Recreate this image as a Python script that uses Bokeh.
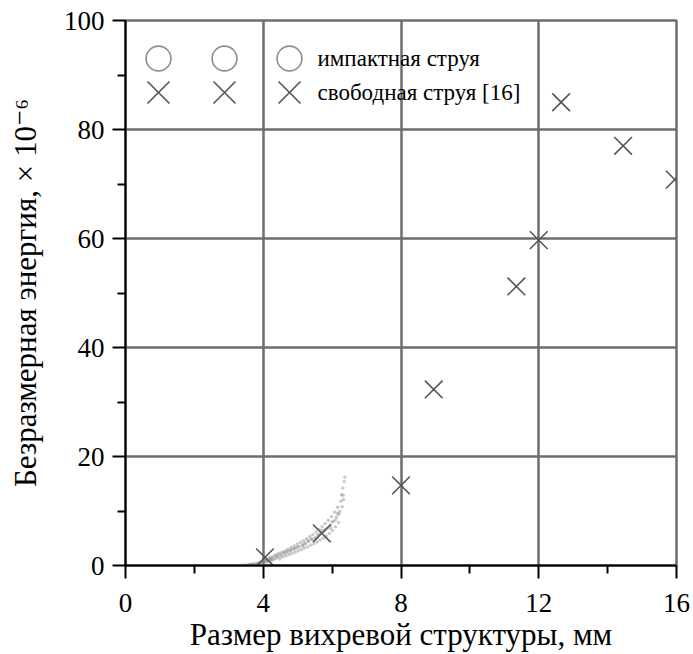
from bokeh.plotting import figure
from bokeh.models import Range1d, FixedTicker, Legend, LegendItem, ColumnDataSource, Label
from bokeh.embed import file_html
from bokeh.resources import INLINE

# ---- data ----
x_ticks = [0, 4, 8, 12, 16]
x_minor = [2, 6, 10, 14]
y_ticks = [0, 20, 40, 60, 80, 100]
y_minor = [10, 30, 50, 70, 90]

# free jet [16] (crosses)
free_x = [4.05, 5.7, 8.0, 8.95, 11.35, 12.0, 12.65, 14.45, 15.95]
free_y = [1.5, 5.9, 14.7, 32.3, 51.2, 59.7, 85.0, 77.0, 70.8]

# impinging jet (cloud of small grey points)
cloud_x = [3.35, 3.45, 3.52, 3.58, 3.63, 3.70, 3.74, 3.80, 3.84, 3.88, 3.92, 3.96, 4.00, 4.03, 4.06,
           4.09, 4.12, 4.15, 4.18, 4.21, 4.24, 4.27, 4.30, 4.33, 4.36, 4.39, 4.42, 4.45, 4.48, 4.51,
           4.54, 4.57, 4.60, 4.63, 4.66, 4.69, 4.72, 4.75, 4.78, 4.81, 4.84, 4.87, 4.90, 4.93, 4.96,
           4.99, 5.02, 5.05, 5.08, 5.11, 5.14, 5.17, 5.20, 5.23, 5.26, 5.29, 5.32, 5.35, 5.38, 5.41,
           5.44, 5.47, 5.50, 5.53, 5.56, 5.59, 5.62, 5.65, 5.68, 5.71, 5.74, 5.77, 5.80, 5.83, 5.86,
           5.89, 5.92, 5.95, 5.98, 6.01, 6.04, 6.07, 6.10, 6.13, 6.16, 6.19, 6.22, 6.25, 6.27, 6.29,
           6.31, 6.33, 6.35, 6.37, 4.20, 4.40, 4.60, 4.80, 5.00, 5.20, 5.40, 5.60, 5.80, 6.00, 6.20,
           4.10, 4.50, 4.90, 5.30, 5.70, 6.10, 3.65, 3.90, 4.25, 4.70, 5.15, 5.55, 5.95, 6.15, 6.32]
cloud_y = [0.05, 0.10, 0.05, 0.20, 0.12, 0.30, 0.18, 0.40, 0.25, 0.55, 0.35, 0.70, 0.45, 0.90, 0.60,
           1.15, 0.75, 1.30, 0.95, 1.45, 0.85, 1.60, 1.15, 1.85, 1.30, 2.00, 1.50, 2.25, 1.20, 1.75,
           2.45, 1.55, 2.10, 2.70, 1.80, 2.40, 3.00, 2.00, 2.65, 3.30, 2.25, 2.95, 3.60, 2.45, 3.20,
           3.95, 2.70, 3.50, 4.25, 2.95, 3.80, 4.55, 3.20, 4.10, 4.90, 3.45, 4.40, 5.30, 3.75, 4.75,
           5.70, 4.00, 5.10, 6.15, 4.30, 5.45, 6.60, 4.65, 5.90, 7.10, 5.00, 6.35, 7.70, 5.40, 6.85,
           8.30, 5.85, 7.40, 9.00, 6.40, 8.10, 9.80, 7.10, 8.90, 10.70, 7.90, 9.90, 11.80, 13.00, 10.80,
           14.20, 12.10, 15.40, 16.20, 1.10, 1.70, 2.40, 2.90, 3.40, 4.00, 4.90, 5.70, 6.60, 8.00, 9.40,
           0.85, 2.00, 3.10, 4.60, 6.40, 8.40, 0.25, 0.45, 1.25, 2.60, 3.60, 5.00, 6.90, 9.60, 12.90]

label_impact = "импактная струя"
label_free = "свободная струя [16]"
x_title = "Размер вихревой структуры, мм"
y_title = "Безразмерная энергия, × 10⁻⁶"

FONT = "'Liberation Serif', 'DejaVu Serif', serif"
GRID = "#6e6e6e"

p = figure(width=693, height=654, output_backend="svg", toolbar_location=None,
           x_range=Range1d(0, 16), y_range=Range1d(0, 100),
           min_border_left=125, min_border_right=17, min_border_top=20, min_border_bottom=89)
p.background_fill_color = "white"
p.border_fill_color = "white"
p.outline_line_color = GRID
p.outline_line_width = 2.5

p.xaxis.ticker = FixedTicker(ticks=x_ticks, minor_ticks=x_minor)
p.yaxis.ticker = FixedTicker(ticks=y_ticks, minor_ticks=y_minor)

for g in (p.xgrid, p.ygrid):
    g.grid_line_color = GRID
    g.grid_line_width = 2.5

for ax in (p.xaxis, p.yaxis):
    ax.axis_line_color = "black"
    ax.axis_line_width = 2
    ax.major_tick_line_color = "black"
    ax.major_tick_line_width = 2
    ax.minor_tick_line_color = "black"
    ax.minor_tick_line_width = 2
    ax.major_tick_out = 13
    ax.major_tick_in = 0
    ax.minor_tick_out = 8
    ax.minor_tick_in = 0
    ax.major_label_text_font = FONT
    ax.major_label_text_font_size = "27px"
    ax.major_label_text_color = "black"
    ax.axis_label_text_font = FONT
    ax.axis_label_text_font_size = "31px"
    ax.axis_label_text_font_style = "normal"
    ax.axis_label_text_color = "black"

p.xaxis.major_label_standoff = 15
p.yaxis.major_label_standoff = 8
p.xaxis.axis_label = x_title
p.yaxis.axis_label = y_title
p.xaxis.axis_label_standoff = 2
p.yaxis.axis_label_standoff = 18

cloud_src = ColumnDataSource(data=dict(x=cloud_x, y=cloud_y))
p.scatter("x", "y", source=cloud_src, marker="circle", size=3.5,
          fill_color="#8a8a8a", line_color=None, fill_alpha=0.45)

free_src = ColumnDataSource(data=dict(x=free_x, y=free_y))
r_free = p.scatter("x", "y", source=free_src, marker="x", size=25,
                   line_color="#555555", line_width=1.6)

# hidden renderer used only as the legend glyph for the impinging-jet series
r_circ = p.scatter("x", "y", source=cloud_src, marker="circle", size=24,
                   fill_color=None, line_color="#8c8c8c", line_width=1.6, visible=False)

# legend: three symbols per row, then the series name
legend_cols = [33, 99, 164]          # symbol centres, px from the frame's left edge
rows = [(r_circ, label_impact, 507, 62), (r_free, label_free, 473, 78)]
for renderer, name, cy, box in rows:
    for cx in legend_cols:
        lg = Legend(items=[LegendItem(label=" ", renderers=[renderer])],
                    location=(cx - box / 2, cy - box / 2),
                    glyph_width=box, glyph_height=box, spacing=0,
                    label_standoff=0, label_width=1, padding=0, margin=0,
                    border_line_alpha=0, background_fill_alpha=0,
                    inactive_fill_alpha=0,
                    label_text_font=FONT, label_text_font_size="23px")
        p.add_layout(lg)
    p.add_layout(Label(x=192, y=cy, x_units="screen", y_units="screen", text=name,
                       text_font=FONT, text_font_size="23px", text_color="black",
                       text_baseline="middle", text_align="left"))

open("out.html", "w").write(file_html(p, INLINE))
